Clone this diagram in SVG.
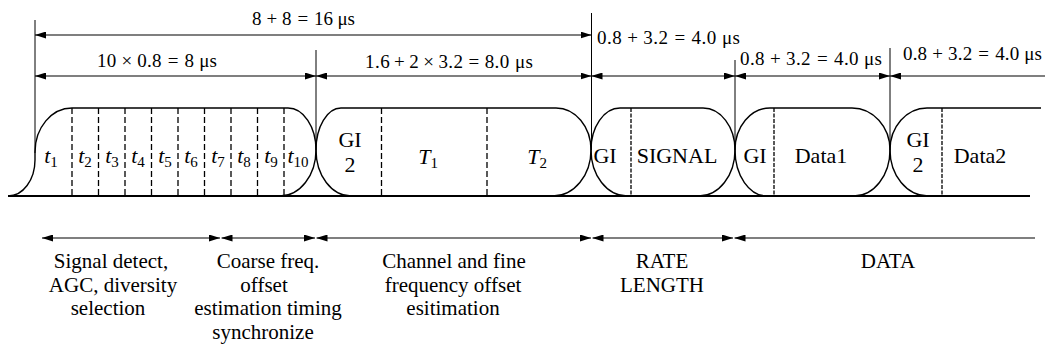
<svg xmlns="http://www.w3.org/2000/svg" width="1045" height="349" viewBox="0 0 1045 349">
<defs>
<style>
.shape{fill:none;stroke:#000;stroke-width:1.4}
.dash{stroke:#000;stroke-width:1.3;stroke-dasharray:6,3}
.dash2{stroke:#000;stroke-width:1.3;stroke-dasharray:4,1.5}
.vline{stroke:#000;stroke-width:1}
.arrow{stroke:#000;stroke-width:1.2;fill:none}
.base{stroke:#000;stroke-width:1.8}
.dim{font-size:19px;font-family:'Liberation Serif','Times New Roman',serif}
.blk{font-size:22px;text-anchor:middle;font-family:'Liberation Serif','Times New Roman',serif}
.sub{font-size:15px;font-style:normal}
.note{font-size:21px;text-anchor:middle;font-family:'Liberation Serif','Times New Roman',serif}
</style>
<marker id="ah" viewBox="0 0 11 7" refX="11" refY="3.5" markerWidth="11" markerHeight="7" markerUnits="userSpaceOnUse" orient="auto-start-reverse">
<path d="M0,0 L11,3.5 L0,7 z" fill="#000"/>
</marker>
</defs>
<rect x="0" y="0" width="1045" height="349" fill="#fff"/>

<line class="base" x1="8" y1="196" x2="1030" y2="196"/>

<g id="short-training">
<path class="shape" d="M8,196 A27,36 0 0 0 35,160 L35,152 A37,44 0 0 1 72,108 H288 A28,42 0 0 1 316,150 A36,46 0 0 1 280,196"/>
<line class="dash" x1="72" y1="108" x2="72" y2="196"/>
<line class="dash" x1="98.5" y1="108" x2="98.5" y2="196"/>
<line class="dash" x1="125" y1="108" x2="125" y2="196"/>
<line class="dash" x1="151.5" y1="108" x2="151.5" y2="196"/>
<line class="dash" x1="178" y1="108" x2="178" y2="196"/>
<line class="dash" x1="204.5" y1="108" x2="204.5" y2="196"/>
<line class="dash" x1="231" y1="108" x2="231" y2="196"/>
<line class="dash" x1="257.5" y1="108" x2="257.5" y2="196"/>
<line class="dash" x1="284" y1="108" x2="284" y2="196"/>
<text class="blk" x="51" y="163"><tspan font-style="italic">t</tspan><tspan class="sub" dy="4">1</tspan></text>
<text class="blk" x="85" y="163"><tspan font-style="italic">t</tspan><tspan class="sub" dy="4">2</tspan></text>
<text class="blk" x="112" y="163"><tspan font-style="italic">t</tspan><tspan class="sub" dy="4">3</tspan></text>
<text class="blk" x="138" y="163"><tspan font-style="italic">t</tspan><tspan class="sub" dy="4">4</tspan></text>
<text class="blk" x="165" y="163"><tspan font-style="italic">t</tspan><tspan class="sub" dy="4">5</tspan></text>
<text class="blk" x="191" y="163"><tspan font-style="italic">t</tspan><tspan class="sub" dy="4">6</tspan></text>
<text class="blk" x="218" y="163"><tspan font-style="italic">t</tspan><tspan class="sub" dy="4">7</tspan></text>
<text class="blk" x="244" y="163"><tspan font-style="italic">t</tspan><tspan class="sub" dy="4">8</tspan></text>
<text class="blk" x="271" y="163"><tspan font-style="italic">t</tspan><tspan class="sub" dy="4">9</tspan></text>
<text class="blk" x="298" y="163"><tspan font-style="italic">t</tspan><tspan class="sub" dy="4">10</tspan></text>
</g>

<g id="long-training">
<path class="shape" d="M351,196 A35,46 0 0 1 316,150 A25,42 0 0 1 341,108 H556 A35,42 0 0 1 591,150 A38,46 0 0 1 553,196"/>
<line class="dash" x1="381.5" y1="108" x2="381.5" y2="196"/>
<line class="dash" x1="487" y1="108" x2="487" y2="196"/>
<text class="blk" x="350" y="147">GI</text>
<text class="blk" x="350" y="172">2</text>
<text class="blk" x="428" y="164"><tspan font-style="italic">T</tspan><tspan class="sub" dy="4">1</tspan></text>
<text class="blk" x="537" y="164"><tspan font-style="italic">T</tspan><tspan class="sub" dy="4">2</tspan></text>
</g>

<g id="signal">
<path class="shape" d="M627,196 A36,46 0 0 1 591,150 A29,42 0 0 1 620,108 H703 A32,42 0 0 1 735,150 A36,46 0 0 1 699,196"/>
<line class="dash2" x1="631" y1="108" x2="631" y2="196"/>
<text class="blk" x="605" y="163">GI</text>
<text class="blk" x="677" y="163">SIGNAL</text>
</g>

<g id="data1">
<path class="shape" d="M767,196 A32,46 0 0 1 735,150 A35,42 0 0 1 770,108 H852 A38,42 0 0 1 890,150 A36,46 0 0 1 854,196"/>
<line class="dash2" x1="774" y1="108" x2="774" y2="196"/>
<text class="blk" x="755" y="163">GI</text>
<text class="blk" x="821" y="163">Data1</text>
</g>

<g id="data2">
<path class="shape" d="M928,196 A38,46 0 0 1 890,150 A37,42 0 0 1 927,108 H1041"/>
<line class="dash2" x1="942" y1="108" x2="942" y2="196"/>
<text class="blk" x="918" y="147">GI</text>
<text class="blk" x="918" y="172">2</text>
<text class="blk" x="980" y="163">Data2</text>
</g>

<g id="connectors">
<line class="vline" x1="35" y1="20" x2="35" y2="153"/>
<line class="vline" x1="316" y1="50" x2="316" y2="150"/>
<line class="vline" x1="591.5" y1="13" x2="591.5" y2="150"/>
<line class="vline" x1="735" y1="60" x2="735" y2="150"/>
<line class="vline" x1="890" y1="48" x2="890" y2="150"/>

<line class="arrow" x1="35" y1="35" x2="591.5" y2="35" marker-start="url(#ah)" marker-end="url(#ah)"/>
<line class="arrow" x1="35" y1="76" x2="316" y2="76" marker-start="url(#ah)" marker-end="url(#ah)"/>
<line class="arrow" x1="316" y1="76" x2="591.5" y2="76" marker-start="url(#ah)" marker-end="url(#ah)"/>
<line class="arrow" x1="591.5" y1="76" x2="735" y2="76" marker-start="url(#ah)" marker-end="url(#ah)"/>
<line class="arrow" x1="735" y1="76" x2="890" y2="76" marker-start="url(#ah)" marker-end="url(#ah)"/>
<line class="arrow" x1="890" y1="76" x2="1045" y2="76" marker-start="url(#ah)"/>

<line class="arrow" x1="42" y1="238" x2="220" y2="238" marker-start="url(#ah)" marker-end="url(#ah)"/>
<line class="arrow" x1="221.5" y1="238" x2="315" y2="238" marker-start="url(#ah)" marker-end="url(#ah)"/>
<line class="arrow" x1="316.5" y1="238" x2="591" y2="238" marker-start="url(#ah)" marker-end="url(#ah)"/>
<line class="arrow" x1="592.5" y1="238" x2="733" y2="238" marker-start="url(#ah)" marker-end="url(#ah)"/>
<line class="arrow" x1="734.5" y1="238" x2="1035" y2="238" marker-start="url(#ah)"/>
</g>

<g id="dimension-labels">
<text class="dim" x="252" y="25" textLength="103" lengthAdjust="spacing">8<tspan dx="5">+</tspan><tspan dx="5">8</tspan><tspan dx="6">=</tspan><tspan dx="6">16 μs</tspan></text>
<text class="dim" x="97" y="67" textLength="120" lengthAdjust="spacing">10<tspan dx="5">×</tspan><tspan dx="5">0.8</tspan><tspan dx="6">=</tspan><tspan dx="6">8 μs</tspan></text>
<text class="dim" x="365" y="68" textLength="168" lengthAdjust="spacing">1.6<tspan dx="4">+</tspan><tspan dx="4">2</tspan><tspan dx="4">×</tspan><tspan dx="4">3.2</tspan><tspan dx="5">=</tspan><tspan dx="5">8.0 μs</tspan></text>
<text class="dim" x="597" y="44" textLength="143" lengthAdjust="spacing">0.8<tspan dx="5">+</tspan><tspan dx="5">3.2</tspan><tspan dx="6">=</tspan><tspan dx="6">4.0 μs</tspan></text>
<text class="dim" x="740" y="65" textLength="142" lengthAdjust="spacing">0.8<tspan dx="5">+</tspan><tspan dx="5">3.2</tspan><tspan dx="6">=</tspan><tspan dx="6">4.0 μs</tspan></text>
<text class="dim" x="903" y="60" textLength="139" lengthAdjust="spacing">0.8<tspan dx="5">+</tspan><tspan dx="5">3.2</tspan><tspan dx="6">=</tspan><tspan dx="6">4.0 μs</tspan></text>
</g>

<g id="function-labels">
<text class="note" x="111" y="268">Signal detect,</text>
<text class="note" x="113" y="291.5">AGC, diversity</text>
<text class="note" x="108" y="315">selection</text>
<text class="note" x="268" y="268">Coarse freq.</text>
<text class="note" x="264" y="291.5">offset</text>
<text class="note" x="268" y="315">estimation timing</text>
<text class="note" x="263" y="338.5">synchronize</text>
<text class="note" x="454" y="268">Channel and fine</text>
<text class="note" x="453" y="291.5">frequency offset</text>
<text class="note" x="453" y="315">esitimation</text>
<text class="note" x="662" y="268">RATE</text>
<text class="note" x="662" y="291.5">LENGTH</text>
<text class="note" x="888" y="268">DATA</text>
</g>
</svg>
